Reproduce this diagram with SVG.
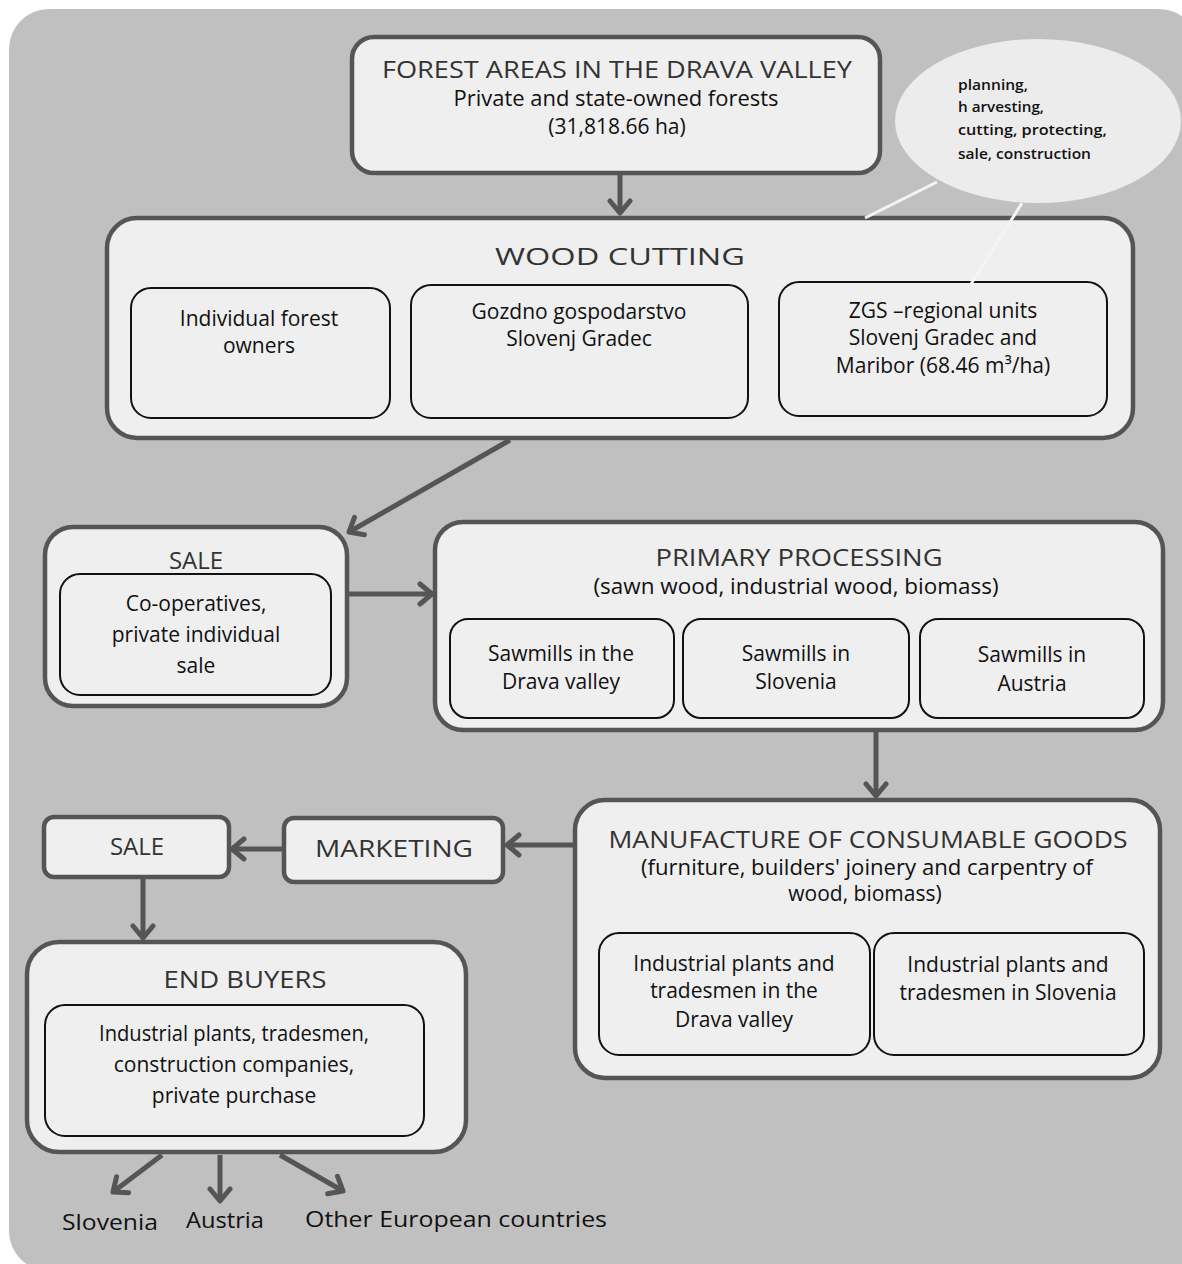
<svg xmlns="http://www.w3.org/2000/svg" width="1182" height="1264" viewBox="0 0 1182 1264">
<style>
.node{fill:#efefef;stroke:#555;stroke-width:4.5}
.inner{fill:#efefef;stroke:#111;stroke-width:2}
.t{font-family:"Open Sans","Noto Sans",sans-serif;text-anchor:middle;fill:#111;font-size:21px}
.h{font-family:"Open Sans","Noto Sans",sans-serif;text-anchor:middle;fill:#333;font-size:24px}
.c{font-family:"Open Sans","Noto Sans",sans-serif;fill:#111;font-size:15px;font-weight:600}
.conn{stroke:#555;stroke-width:5;fill:none;marker-end:url(#ah)}
.wl{stroke:#f4f4f4;stroke-width:3;fill:none}
</style>
<defs>
<marker id="ah" markerUnits="userSpaceOnUse" markerWidth="26" markerHeight="26" refX="16" refY="13" orient="auto">
<path d="M4,3 L16,13 L4,23" fill="none" stroke="#555" stroke-width="5" stroke-linecap="round" stroke-linejoin="round"/>
</marker>
</defs>
<rect width="1182" height="1264" fill="#ffffff"/>
<rect x="9" y="9" width="1190" height="1262" rx="40" fill="#c0c0c0"/>

<g id="callout">
<ellipse cx="1038" cy="121" rx="143" ry="82" fill="#ececec"/>
<text class="c" x="958" y="90" textLength="70" lengthAdjust="spacingAndGlyphs">planning,</text>
<text class="c" x="958" y="112" textLength="86" lengthAdjust="spacingAndGlyphs">h arvesting,</text>
<text class="c" x="958" y="135" textLength="149" lengthAdjust="spacingAndGlyphs">cutting,  protecting,</text>
<text class="c" x="958" y="159" textLength="133" lengthAdjust="spacingAndGlyphs">sale, construction</text>
</g>

<g id="forest">
<rect class="node" x="352" y="37" width="528" height="136" rx="22"/>
<text class="h" x="617" y="78" font-size="21" textLength="470" lengthAdjust="spacingAndGlyphs">FOREST AREAS IN THE DRAVA VALLEY</text>
<text class="t" x="616" y="106" font-size="20" textLength="325" lengthAdjust="spacingAndGlyphs">Private and state-owned forests</text>
<text class="t" x="617" y="134" font-size="20">(31,818.66 ha)</text>
</g>

<g id="woodcutting">
<rect class="node" x="107" y="218" width="1026" height="220" rx="30"/>
<text class="h" x="620" y="265" font-size="27" textLength="250" lengthAdjust="spacingAndGlyphs">WOOD CUTTING</text>
<rect class="inner" x="131" y="288" width="259" height="130" rx="20"/>
<text class="t" x="259" y="326">Individual forest</text>
<text class="t" x="259" y="353">owners</text>
<rect class="inner" x="411" y="285" width="337" height="133" rx="20"/>
<text class="t" x="579" y="319">Gozdno gospodarstvo</text>
<text class="t" x="579" y="346">Slovenj Gradec</text>
<rect class="inner" x="779" y="282" width="328" height="134" rx="20"/>
<text class="t" x="943" y="318">ZGS –regional units</text>
<text class="t" x="943" y="345">Slovenj Gradec and</text>
<text class="t" x="943" y="373">Maribor (68.46 m³/ha)</text>
</g>

<g id="callout-lines">
<line class="wl" x1="937" y1="182" x2="865" y2="218"/>
<line class="wl" x1="1022" y1="203" x2="971" y2="284"/>
</g>

<g id="sale1">
<rect class="node" x="45" y="527" width="302" height="179" rx="28"/>
<text class="h" x="196" y="569">SALE</text>
<rect class="inner" x="60" y="574" width="271" height="121" rx="20"/>
<text class="t" x="196" y="611">Co-operatives,</text>
<text class="t" x="196" y="642">private individual</text>
<text class="t" x="196" y="673">sale</text>
</g>

<g id="primary">
<rect class="node" x="435" y="522" width="728" height="208" rx="28"/>
<text class="h" x="799" y="566" textLength="287" lengthAdjust="spacingAndGlyphs">PRIMARY PROCESSING</text>
<text class="t" x="796" y="594" textLength="405" lengthAdjust="spacingAndGlyphs">(sawn wood, industrial wood, biomass)</text>
<rect class="inner" x="450" y="619" width="224" height="99" rx="18"/>
<text class="t" x="561" y="661">Sawmills in the</text>
<text class="t" x="561" y="689">Drava valley</text>
<rect class="inner" x="683" y="619" width="226" height="99" rx="18"/>
<text class="t" x="796" y="661">Sawmills in</text>
<text class="t" x="796" y="689">Slovenia</text>
<rect class="inner" x="920" y="619" width="224" height="99" rx="18"/>
<text class="t" x="1032" y="662">Sawmills in</text>
<text class="t" x="1032" y="691">Austria</text>
</g>

<g id="manufacture">
<rect class="node" x="575" y="800" width="585" height="278" rx="30"/>
<text class="h" x="868" y="848" textLength="519" lengthAdjust="spacingAndGlyphs">MANUFACTURE OF CONSUMABLE GOODS</text>
<text class="t" x="867" y="875" textLength="452" lengthAdjust="spacingAndGlyphs">(furniture, builders' joinery and carpentry of</text>
<text class="t" x="865" y="901">wood, biomass)</text>
<rect class="inner" x="599" y="933" width="271" height="122" rx="20"/>
<text class="t" x="734" y="971">Industrial plants and</text>
<text class="t" x="734" y="998">tradesmen in the</text>
<text class="t" x="734" y="1027">Drava valley</text>
<rect class="inner" x="874" y="933" width="270" height="122" rx="20"/>
<text class="t" x="1008" y="972">Industrial plants and</text>
<text class="t" x="1008" y="1000">tradesmen in Slovenia</text>
</g>

<g id="marketing">
<rect class="node" x="284" y="818" width="219" height="64" rx="10"/>
<text class="h" x="394" y="857" textLength="158" lengthAdjust="spacingAndGlyphs">MARKETING</text>
</g>

<g id="sale2">
<rect class="node" x="44" y="817" width="185" height="60" rx="10"/>
<text class="h" x="137" y="855">SALE</text>
</g>

<g id="endbuyers">
<rect class="node" x="27" y="942" width="439" height="210" rx="32"/>
<text class="h" x="245" y="988" textLength="163" lengthAdjust="spacingAndGlyphs">END BUYERS</text>
<rect class="inner" x="45" y="1005" width="379" height="131" rx="20"/>
<text class="t" x="234" y="1041" textLength="270" lengthAdjust="spacingAndGlyphs">Industrial plants, tradesmen,</text>
<text class="t" x="234" y="1072">construction companies,</text>
<text class="t" x="234" y="1103">private purchase</text>
</g>

<g id="destinations">
<text class="t" x="110" y="1230" font-size="22" textLength="96" lengthAdjust="spacingAndGlyphs">Slovenia</text>
<text class="t" x="225" y="1228" font-size="22" textLength="78" lengthAdjust="spacingAndGlyphs">Austria</text>
<text class="t" x="456" y="1227" font-size="22" textLength="302" lengthAdjust="spacingAndGlyphs">Other European countries</text>
</g>

<g id="connectors">
<line class="conn" x1="620" y1="175" x2="620" y2="213"/>
<line class="conn" x1="510" y1="440" x2="349" y2="532"/>
<line class="conn" x1="349" y1="594" x2="432" y2="594"/>
<line class="conn" x1="876" y1="732" x2="876" y2="796"/>
<line class="conn" x1="573" y1="845" x2="507" y2="845"/>
<line class="conn" x1="282" y1="849" x2="232" y2="849"/>
<line class="conn" x1="143" y1="879" x2="143" y2="938"/>
<line class="conn" x1="162" y1="1155" x2="113" y2="1192"/>
<line class="conn" x1="220" y1="1155" x2="220" y2="1201"/>
<line class="conn" x1="280" y1="1155" x2="343" y2="1191"/>
</g>
</svg>
